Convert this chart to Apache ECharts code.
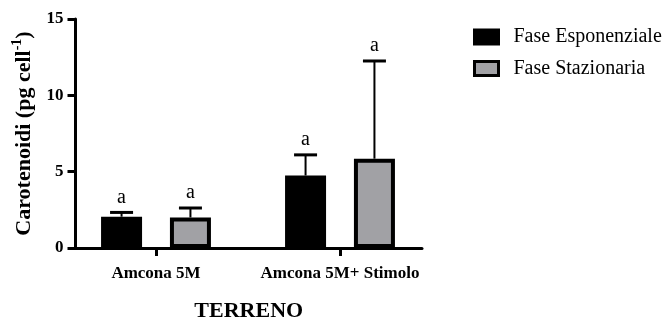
<!DOCTYPE html>
<html>
<head>
<meta charset="utf-8">
<script src="https://cdn.jsdelivr.net/npm/echarts@6/dist/echarts.min.js"></script>
<style>
  html, body { margin: 0; padding: 0; background: #fff; }
  #chart { width: 671px; height: 323px; }
</style>
</head>
<body>
<div id="chart"></div>
<script>
// Carotenoid content per cell, by growth phase and medium
const categories = ['Amcona 5M', 'Amcona 5M+ Stimolo'];
const esponenziale = [2.05, 4.75];
const esponenzialeSd = [0.28, 1.35];
const stazionaria = [2.0, 5.85];
const stazionariaSd = [0.62, 6.4];
const lettersEsp = ['a', 'a'];
const lettersSta = ['a', 'a'];
const seriesNames = ['Fase Esponenziale', 'Fase Stazionaria'];

const FONT = 'Liberation Serif';
const BAR_W = 41;
const BAR_GAP = 0.68;
const HALF_STEP = BAR_W * (1 + BAR_GAP) / 2;
const CAP_HALF = 11.5;

function errorSeries(means, sds, letters, dx) {
  return {
    type: 'custom',
    z: 5,
    data: means.map((m, i) => [i, m, m + sds[i]]),
    encode: { x: 0, y: [1, 2] },
    renderItem: function (params, api) {
      const base = api.coord([api.value(0), api.value(1)]);
      const top = api.coord([api.value(0), api.value(2)]);
      const x = base[0] + dx;
      return {
        type: 'group',
        children: [
          { type: 'line', shape: { x1: x, y1: base[1], x2: x, y2: top[1] },
            style: { stroke: '#000', lineWidth: 2 } },
          { type: 'line', shape: { x1: x - CAP_HALF, y1: top[1], x2: x + CAP_HALF, y2: top[1] },
            style: { stroke: '#000', lineWidth: 3 } },
          { type: 'text', x: x, y: top[1] - 5,
            style: { text: letters[params.dataIndex], fontFamily: FONT, fontSize: 20,
                     fill: '#000', align: 'center', verticalAlign: 'bottom' } }
        ]
      };
    }
  };
}

const chart = echarts.init(document.getElementById('chart'));
chart.setOption({
  animation: false,
  backgroundColor: '#fff',
  grid: { left: 75.5, top: 19, right: 249, bottom: 75, containLabel: false, outerBoundsMode: 'none' },
  legend: {
    orient: 'vertical',
    left: 468,
    top: 22,
    itemWidth: 24,
    itemHeight: 14,
    itemGap: 11.5,
    icon: 'rect',
    textStyle: { fontFamily: FONT, fontSize: 20, color: '#000', padding: [0, 0, 0, 10] },
    data: [
      { name: seriesNames[0], itemStyle: { color: '#000', borderColor: '#000', borderWidth: 3 } },
      { name: seriesNames[1], itemStyle: { color: '#a1a1a5', borderColor: '#000', borderWidth: 3 } }
    ]
  },
  xAxis: {
    type: 'value',
    min: -80.5 / 184,
    max: 1 + 82 / 184,
    splitLine: { show: false },
    axisLine: { show: true, onZero: false, lineStyle: { color: '#000', width: 3 } },
    axisTick: { show: true, customValues: [0, 1], length: 8, lineStyle: { color: '#000', width: 3 } },
    axisLabel: {
      customValues: [0, 1],
      formatter: v => categories[Math.round(v)],
      fontFamily: FONT, fontWeight: 'bold', fontSize: 17, color: '#000', margin: 17
    },
    name: 'TERRENO',
    nameLocation: 'middle',
    nameGap: 52,
    nameTextStyle: { fontFamily: FONT, fontWeight: 'bold', fontSize: 22, color: '#000' }
  },
  yAxis: {
    type: 'value',
    min: 0,
    max: 15,
    interval: 5,
    splitLine: { show: false },
    axisLine: { show: true, onZero: false, lineStyle: { color: '#000', width: 3 } },
    axisTick: { show: true, length: 8, lineStyle: { color: '#000', width: 3 } },
    axisLabel: { fontFamily: FONT, fontWeight: 'bold', fontSize: 17, color: '#000', margin: 12 },
    name: '{t|Carotenoidi (pg cell}{s|-1}{t|)}',
    nameLocation: 'middle',
    nameGap: 37,
    nameTextStyle: {
      rich: {
        t: { fontFamily: FONT, fontWeight: 'bold', fontSize: 22, color: '#000', lineHeight: 25, verticalAlign: 'bottom' },
        s: { fontFamily: FONT, fontWeight: 'bold', fontSize: 14, color: '#000', lineHeight: 25, verticalAlign: 'top' }
      }
    }
  },
  series: [
    {
      name: seriesNames[0],
      type: 'bar',
      barWidth: BAR_W,
      barGap: (BAR_GAP * 100) + '%',
      itemStyle: { color: '#000', borderColor: '#000', borderWidth: 4 },
      data: esponenziale.map((v, i) => [i, v])
    },
    {
      name: seriesNames[1],
      type: 'bar',
      barWidth: BAR_W,
      barGap: (BAR_GAP * 100) + '%',
      itemStyle: { color: '#a1a1a5', borderColor: '#000', borderWidth: 4 },
      data: stazionaria.map((v, i) => [i, v])
    },
    errorSeries(esponenziale, esponenzialeSd, lettersEsp, -HALF_STEP),
    errorSeries(stazionaria, stazionariaSd, lettersSta, HALF_STEP)
  ]
});
</script>
</body>
</html>
